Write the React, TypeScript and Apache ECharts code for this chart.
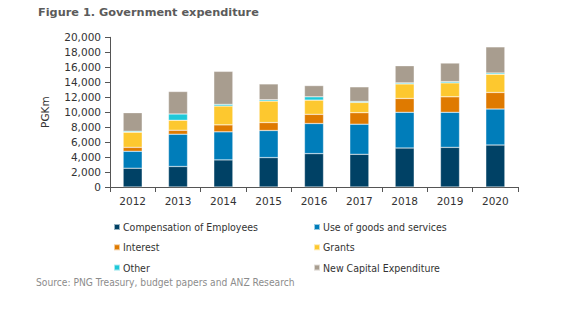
import React, { useEffect, useRef } from "react";
import * as echarts from "echarts";

const years = ["2012", "2013", "2014", "2015", "2016", "2017", "2018", "2019", "2020"];
const compensation = [2520, 2740, 3620, 3930, 4460, 4370, 5210, 5300, 5610];
const goodsServices = [2250, 4320, 3750, 3620, 4020, 4020, 4770, 4680, 4810];
const interest = [530, 530, 930, 1060, 1230, 1540, 1850, 2070, 2210];
const grants = [2030, 1330, 2520, 2870, 1900, 1370, 1940, 1860, 2430];
const other = [120, 840, 220, 180, 440, 130, 140, 170, 170];
const capex = [2480, 3000, 4410, 2110, 1500, 1950, 2290, 2480, 3490];
const yTicks = [0, 2000, 4000, 6000, 8000, 10000, 12000, 14000, 16000, 18000, 20000];

const FONT = "DejaVu Sans";
const FONT_C = "DejaVu Sans Condensed";

export default function App() {
  const ref = useRef<HTMLDivElement>(null);
  useEffect(() => {
    if (!ref.current) return;
    const chart = echarts.init(ref.current, undefined, { renderer: "svg" });
    const mk = (name: string, data: number[], color: string) => ({
      name,
      type: "bar",
      stack: "total",
      data,
      barWidth: "42%",
      itemStyle: { color, borderColor: "rgba(255,255,255,0.6)", borderWidth: 0.5 },
    });
    const legendBase = {
      orient: "vertical",
      icon: "rect",
      itemWidth: 6,
      itemHeight: 6,
      itemGap: 9.3,
      padding: 0,
      textStyle: { fontFamily: FONT_C, fontSize: 10.5, color: "#333", padding: [0, 0, 0, -2] },
      selectedMode: false,
    };
    chart.setOption({
      animation: false,
      textStyle: { fontFamily: FONT },
      grid: { left: 110, right: 62, top: 37.3, bottom: 134, containLabel: false },
      graphic: [
        {
          type: "text",
          left: 38,
          top: 7,
          style: { text: "Figure 1. Government expenditure", font: `bold 11.3px "${FONT}"`, fill: "#5b5b5b" },
        },
        {
          type: "text",
          left: 36,
          top: 277,
          style: { text: "Source: PNG Treasury, budget papers and ANZ Research", font: `10.2px "${FONT_C}"`, fill: "#8c8c8c" },
        },
      ],
      legend: [
        { ...legendBase, left: 113, top: 221.5, data: ["Compensation of Employees", "Interest", "Other"] },
        { ...legendBase, left: 313, top: 221.5, data: ["Use of goods and services", "Grants", "New Capital Expenditure"] },
      ],
      xAxis: {
        type: "category",
        data: years,
        axisLine: { lineStyle: { color: "#555", width: 1 } },
        axisTick: { show: true, length: 5, lineStyle: { color: "#555" } },
        axisLabel: { fontFamily: FONT, fontSize: 10.5, color: "#333", margin: 8 },
      },
      yAxis: {
        type: "value",
        min: 0,
        max: 20000,
        interval: 2000,
        name: "PGKm",
        nameLocation: "middle",
        nameRotate: 90,
        nameGap: 60,
        nameTextStyle: { fontFamily: FONT, fontSize: 10.5, color: "#333" },
        axisLine: { show: true, lineStyle: { color: "#555", width: 1 } },
        axisTick: { show: true, length: 5, lineStyle: { color: "#555" } },
        splitLine: { show: false },
        axisLabel: {
          fontFamily: FONT,
          fontSize: 10.5,
          color: "#333",
          margin: 9,
          formatter: (v: number) => (yTicks.includes(v) ? v.toLocaleString("en-US") : ""),
        },
      },
      series: [
        mk("Compensation of Employees", compensation, "#004165"),
        mk("Use of goods and services", goodsServices, "#007dba"),
        mk("Interest", interest, "#df7a00"),
        mk("Grants", grants, "#fdc82f"),
        mk("Other", other, "#1ec8d8"),
        mk("New Capital Expenditure", capex, "#a89d8f"),
      ],
    });
    return () => chart.dispose();
  }, []);
  return <div ref={ref} style={{ width: 580, height: 321, position: "absolute", left: 0, top: 0 }} />;
}
